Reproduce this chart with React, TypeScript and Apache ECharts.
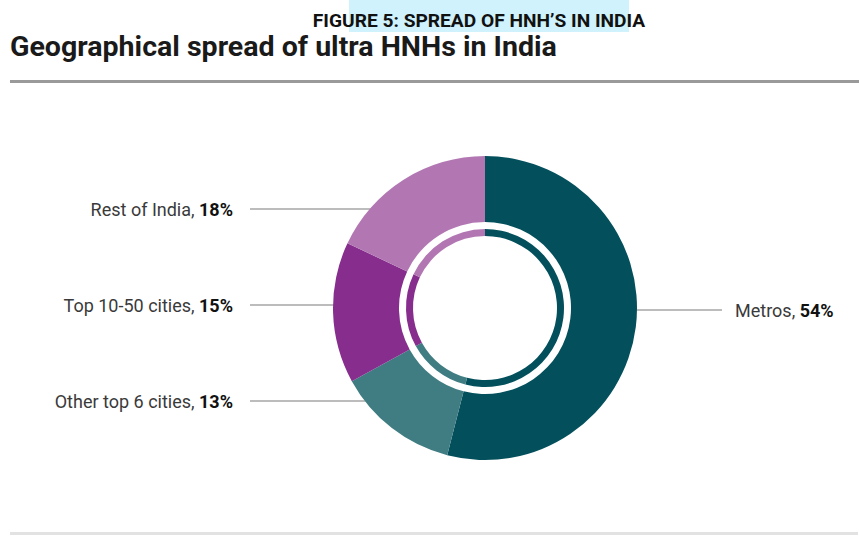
import React, { useEffect, useRef } from "react";
import * as echarts from "echarts";

// ---- data ----
const categories = ["Metros", "Other top 6 cities", "Top 10-50 cities", "Rest of India"];
const shares = [54, 13, 15, 18];
const sliceColors = ["#03505C", "#3F7D83", "#862D8D", "#B277B3"];

const figureTitle = "FIGURE 5: SPREAD OF HNH’S IN INDIA";
const chartTitle = "Geographical spread of ultra HNHs in India";

// ---- layout ----
const W = 859;
const H = 536;
const CX = 485;
const CY = 308;
const R_OUT = 152;
const R_IN = 86;
const RING_OUT = 79;
const RING_IN = 72;
const LABEL_Y = [310, 401, 305, 209];
const LEFT_TEXT_X = 233;
const LEFT_LINE_X = 250;
const RIGHT_TEXT_X = 735;
const RIGHT_LINE_X = 722;

export default function App() {
  const ref = useRef<HTMLDivElement>(null);

  useEffect(() => {
    if (!ref.current) return;
    const chart = echarts.init(ref.current, undefined, { renderer: "svg" });
    const data = categories.map((name, i) => ({
      name,
      value: shares[i],
      itemStyle: { color: sliceColors[i] },
    }));

    chart.setOption({
      animation: false,
      backgroundColor: "#ffffff",
      graphic: [
        {
          type: "rect",
          shape: { x: 349, y: 0, width: 280, height: 32 },
          style: { fill: "#CFF2FC" },
          silent: true,
        },
        {
          type: "text",
          x: 479,
          y: 21,
          scaleX: 1.01,
          style: {
            text: figureTitle,
            font: "bold 19px Roboto",
            fill: "#111111",
            align: "center",
            verticalAlign: "middle",
          },
          silent: true,
        },
        {
          type: "text",
          x: 10,
          y: 47,
          scaleX: 1.02,
          style: {
            text: chartTitle,
            font: "bold 28px Roboto",
            fill: "#1a1a1a",
            align: "left",
            verticalAlign: "middle",
          },
          silent: true,
        },
        {
          type: "rect",
          shape: { x: 10, y: 80, width: W - 10, height: 3 },
          style: { fill: "#9a9a9a" },
          silent: true,
        },
        {
          type: "rect",
          shape: { x: 10, y: 532, width: W - 11, height: 3 },
          style: { fill: "#e2e2e2" },
          silent: true,
        },
      ],
      series: [
        {
          type: "pie",
          center: [CX, CY],
          radius: [R_IN, R_OUT],
          startAngle: 90,
          clockwise: true,
          silent: true,
          data,
          itemStyle: { borderWidth: 0 },
          label: {
            show: true,
            position: "outside",
            formatter: (p: any) => `{n|${p.name}, }{v|${p.value}%}`,
            rich: {
              n: { fontFamily: "Roboto", fontSize: 18, color: "#3a3a3a" },
              v: { fontFamily: "Roboto", fontSize: 18, fontWeight: "bold", color: "#111111" },
            },
          },
          labelLine: {
            show: true,
            smooth: false,
            lineStyle: { color: "#a6a6a6", width: 1.5 },
          },
          labelLayout: (p: any) => {
            const i = p.dataIndex;
            const y = LABEL_Y[i];
            const dy = y - CY;
            const dx = Math.sqrt(Math.max(R_OUT * R_OUT - dy * dy, 0));
            if (i === 0) {
              const ex = CX + dx - 1;
              return {
                x: RIGHT_TEXT_X,
                y,
                align: "left",
                verticalAlign: "middle",
                labelLinePoints: [[ex, y], [ex, y], [RIGHT_LINE_X, y]],
              };
            }
            const ex = CX - dx + 1;
            return {
              x: LEFT_TEXT_X,
              y,
              align: "right",
              verticalAlign: "middle",
              labelLinePoints: [[ex, y], [ex, y], [LEFT_LINE_X, y]],
            };
          },
        },
        {
          type: "pie",
          center: [CX, CY],
          radius: [RING_IN, RING_OUT],
          startAngle: 90,
          clockwise: true,
          silent: true,
          data,
          itemStyle: { borderWidth: 0 },
          label: { show: false },
          labelLine: { show: false },
        },
      ],
    });

    return () => chart.dispose();
  }, []);

  return (
    <div
      ref={ref}
      style={{ position: "absolute", left: 0, top: 0, width: W, height: H }}
    />
  );
}
